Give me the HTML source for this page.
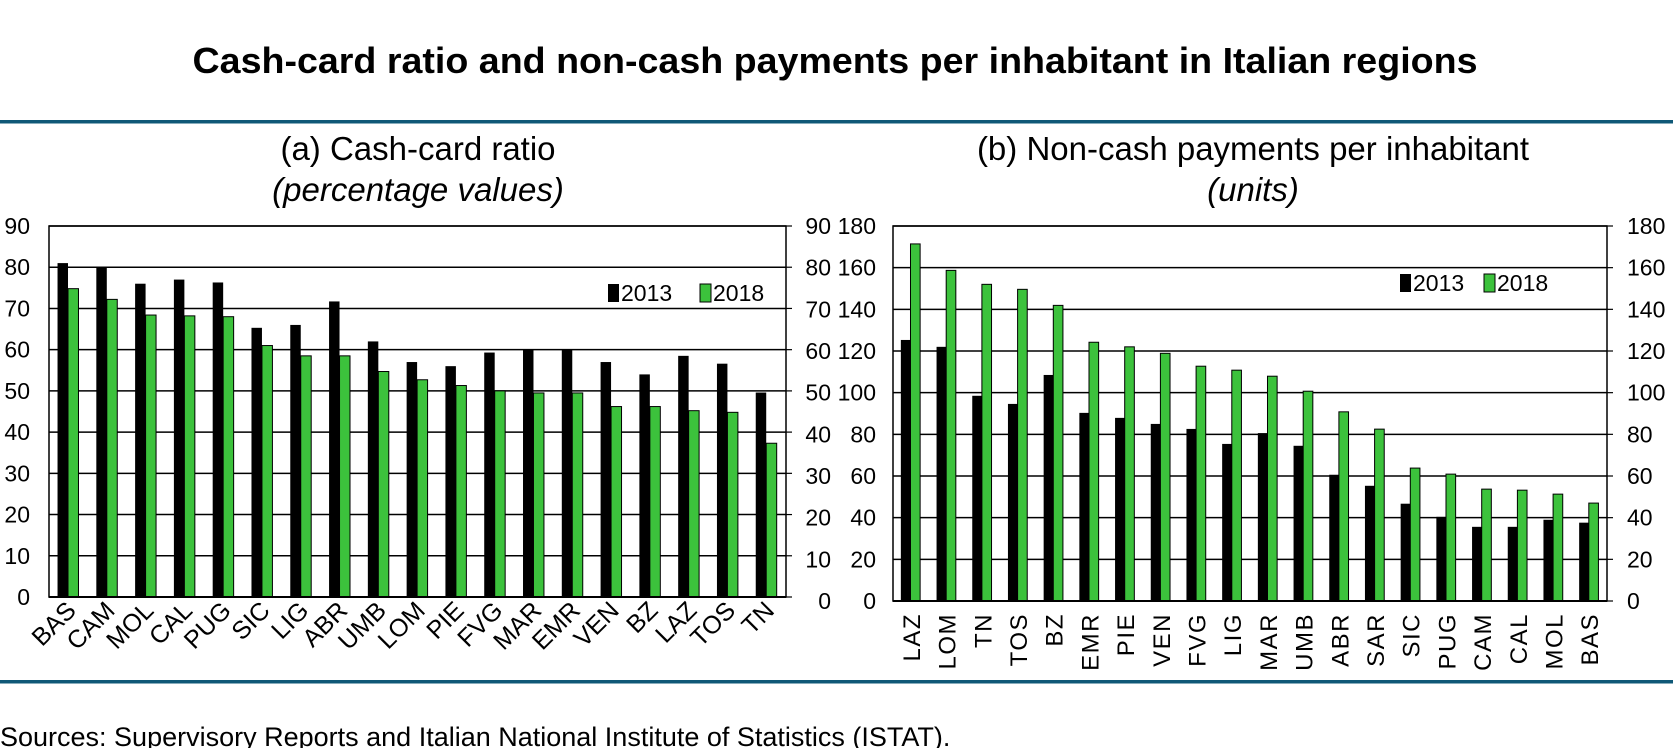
<!DOCTYPE html>
<html><head><meta charset="utf-8"><style>
html,body{margin:0;padding:0;background:#fff;}
svg{display:block;font-family:"Liberation Sans",Arial,sans-serif;}
</style></head><body>
<svg id="s" width="1673" height="748" viewBox="0 0 1673 748" xmlns="http://www.w3.org/2000/svg">
<text x="835" y="73" text-anchor="middle" font-size="36" font-weight="bold" textLength="1285" lengthAdjust="spacingAndGlyphs">Cash-card ratio and non-cash payments per inhabitant in Italian regions</text>
<rect x="0" y="120" width="1673" height="3.5" fill="#0f5877"/>
<rect x="0" y="680" width="1673" height="3.5" fill="#0f5877"/>
<text x="418" y="160" text-anchor="middle" font-size="33">(a) Cash-card ratio</text>
<text x="418" y="201" text-anchor="middle" font-size="33" font-style="italic">(percentage values)</text>
<text x="1253" y="160" text-anchor="middle" font-size="33">(b) Non-cash payments per inhabitant</text>
<text x="1253" y="201" text-anchor="middle" font-size="33" font-style="italic">(units)</text>
<text x="0" y="746" font-size="27">Sources: Supervisory Reports and Italian National Institute of Statistics (ISTAT).</text>
<g id="g"></g>
</svg>
<script>
var g=document.getElementById('g'),h='';
function R(x,y,w,hh,f,st){h+='<rect x="'+x+'" y="'+y+'" width="'+w+'" height="'+hh+'" fill="'+f+'"'+(st?' stroke="#000" stroke-width="1"':'')+'/>';}
function T(x,y,t,a,extra){h+='<text x="'+x+'" y="'+y+'" font-size="23" text-anchor="'+a+'" '+(extra||'')+'>'+t+'</text>';}
function chart(L,Rt,top,bot,max,step,cats,a,b,rot){
 var n=cats.length,bw=(Rt-L)/n;
 for(var v=0;v<=max;v+=step){var y=bot-(bot-top)*v/max;
  h+='<line x1="'+L+'" x2="'+Rt+'" y1="'+y+'" y2="'+y+'" stroke="#000" stroke-width="1.5"/>';
  h+='<line x1="'+Rt+'" x2="'+(Rt+6)+'" y1="'+y+'" y2="'+y+'" stroke="#000" stroke-width="1.2"/>';
 }
 h+='<rect x="'+L+'" y="'+top+'" width="'+(Rt-L)+'" height="'+(bot-top)+'" fill="none" stroke="#000" stroke-width="1.5"/>';
 for(var i=0;i<n;i++){var x0=L+i*bw+bw*0.22,w=bw*0.27;
  var ya=bot-(bot-top)*a[i]/max,yb=bot-(bot-top)*b[i]/max;
  R(x0,ya,w,bot-ya,'#000');R(x0+w,yb,w,bot-yb,'#3cc23c',1);
  var cx=L+i*bw+bw/2;
  if(rot==45){h+='<text font-size="25" text-anchor="end" transform="translate('+(cx+9)+',612) rotate(-45)">'+cats[i]+'</text>';}
  else{h+='<text font-size="24" text-anchor="end" transform="translate('+(cx+9)+',613) rotate(-90)" letter-spacing="1.5">'+cats[i]+'</text>';}
 }
 h+='<line x1="'+L+'" x2="'+Rt+'" y1="'+bot+'" y2="'+bot+'" stroke="#000" stroke-width="2"/>';
}
var c1=['BAS','CAM','MOL','CAL','PUG','SIC','LIG','ABR','UMB','LOM','PIE','FVG','MAR','EMR','VEN','BZ','LAZ','TOS','TN'];
var a1=[81,80,76,77,76.3,65.3,66,71.7,62,57,56,59.3,60,60,57,54,58.5,56.6,49.6];
var b1=[74.8,72.2,68.4,68.2,68,61,58.5,58.5,54.7,52.7,51.3,50,49.5,49.5,46.2,46.2,45.2,44.8,37.3];
chart(49,786,226,597,90,10,c1,a1,b1,45);
var c2=['LAZ','LOM','TN','TOS','BZ','EMR','PIE','VEN','FVG','LIG','MAR','UMB','ABR','SAR','SIC','PUG','CAM','CAL','MOL','BAS'];
var a2=[125.3,122,98.5,94.6,108.5,90.3,87.9,85,82.6,75.4,80.6,74.5,60.6,55.3,46.7,40.4,35.6,35.6,39,37.6];
var b2=[171.4,158.7,152,149.6,141.9,124.2,122,118.9,112.7,110.8,107.9,100.7,90.8,82.5,63.8,60.9,53.7,53.2,51.3,47];
chart(893,1607,226,601,180,20,c2,a2,b2,90);
for(var k=0;k<=9;k++){
 var y1=597-(597-226)*k/9, y2=601-(601-226)*k/9;
 T(30,y1+8,k*10,'end');
 T(831,y2+8,k*10,'end');
 T(876,y2+8,k*20,'end');
 T(1627,y2+8,k*20,'start');
}
R(608,284,11,18,'#000');T(621,301,'2013','start');
R(700,284,11,18,'#3cc23c',1);T(713,301,'2018','start');
R(1400,274,11,18,'#000');T(1413,291,'2013','start');
R(1484,274,11,18,'#3cc23c',1);T(1497,291,'2018','start');
g.innerHTML=h;
</script>
</body></html>
